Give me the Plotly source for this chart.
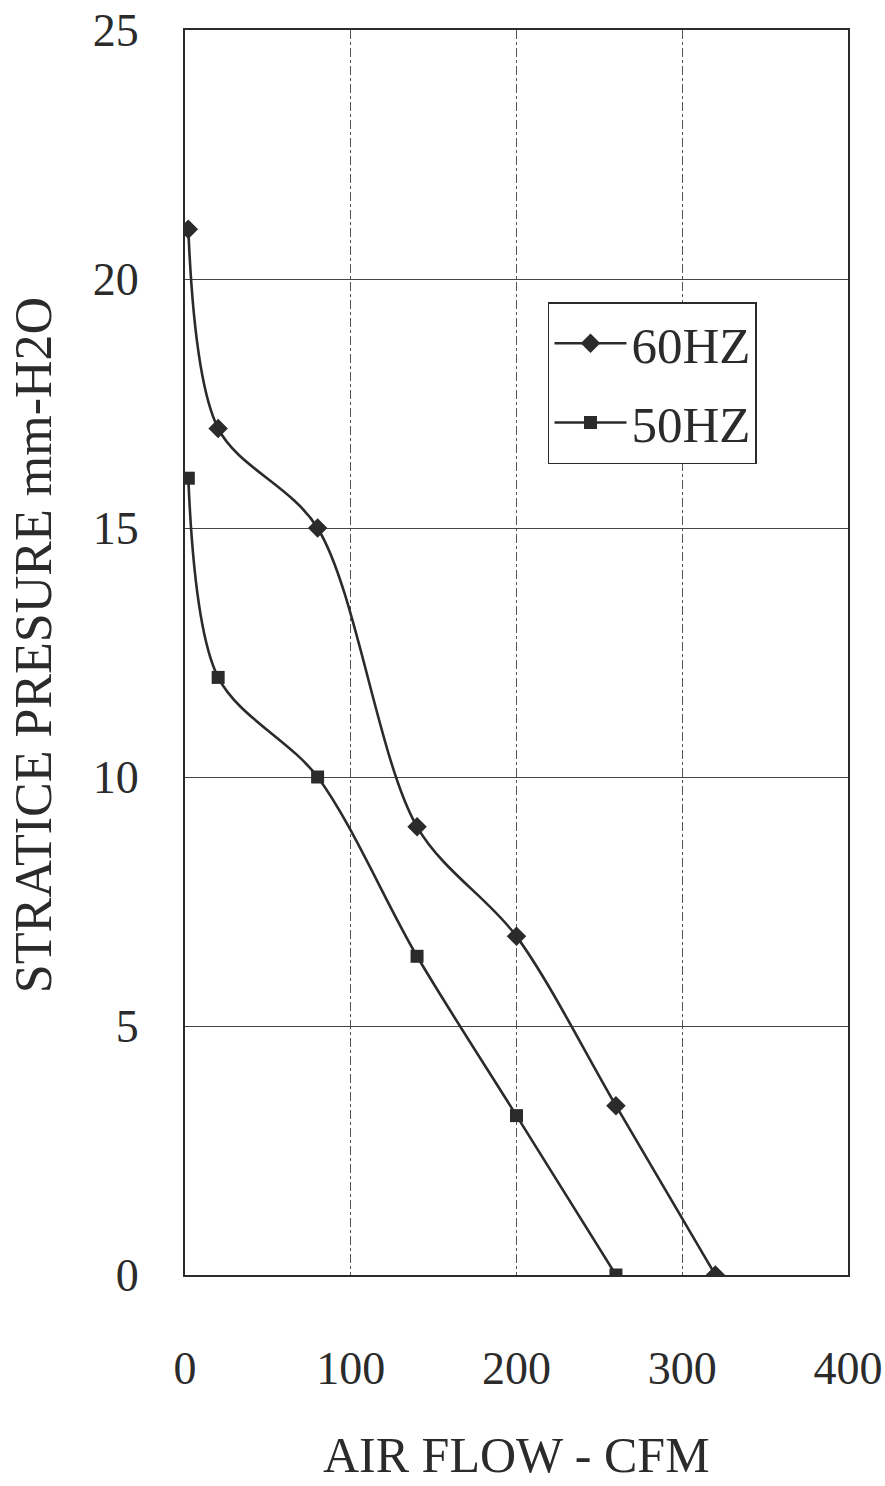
import plotly.graph_objects as go

air_flow_60 = [2, 20, 80, 140, 200, 260, 320]
pressure_60 = [21, 17, 15, 9, 6.8, 3.4, 0]
air_flow_50 = [2, 20, 80, 140, 200, 260]
pressure_50 = [16, 12, 10, 6.4, 3.2, 0]
x_ticks = [0, 100, 200, 300, 400]
y_ticks = [0, 5, 10, 15, 20, 25]

FONT = "Liberation Serif"
INK = "#2b2b2b"

fig = go.Figure()
fig.add_trace(go.Scatter(
    x=air_flow_60, y=pressure_60, name="60HZ", mode="lines+markers",
    legendgroup="a",
    line=dict(color=INK, width=2.6, shape="spline", smoothing=0.9),
    marker=dict(symbol="diamond", size=15, color=INK),
))
fig.add_trace(go.Scatter(
    x=air_flow_50, y=pressure_50, name="50HZ", mode="lines+markers",
    legendgroup="b",
    line=dict(color=INK, width=2.6, shape="spline", smoothing=0.9),
    marker=dict(symbol="square", size=13, color=INK),
))

fig.update_layout(
    width=885, height=1486,
    margin=dict(l=185, r=37, t=30, b=211),
    paper_bgcolor="white", plot_bgcolor="white",
    font=dict(family=FONT, color=INK, size=46),
    showlegend=True,
    legend=dict(
        x=0.5475, y=0.7815, xanchor="left", yanchor="top",
        bgcolor="white", bordercolor=INK, borderwidth=1.5,
        font=dict(family=FONT, size=51, color=INK),
        itemwidth=72, tracegroupgap=10,
    ),
)
fig.update_xaxes(
    range=[0, 400], tickvals=x_ticks, ticktext=[str(v) for v in x_ticks],
    showline=True, linecolor=INK, linewidth=2, mirror=True,
    showgrid=True, gridcolor="#555555", gridwidth=1, griddash="dashdot",
    zeroline=False, ticks="", ticklabelstandoff=52, automargin=False,
    ticklabeloverflow="allow",
    tickfont=dict(family=FONT, size=46, color=INK),
)
fig.update_yaxes(
    range=[0, 25], tickvals=y_ticks, ticktext=[str(v) for v in y_ticks],
    showline=True, linecolor=INK, linewidth=2, mirror=True,
    showgrid=True, gridcolor="#444444", gridwidth=1,
    zeroline=False, ticks="", ticklabelstandoff=35, automargin=False,
    ticklabeloverflow="allow",
    tickfont=dict(family=FONT, size=46, color=INK),
)
fig.add_annotation(
    text="AIR FLOW - CFM", xref="paper", yref="paper", x=0.5, y=-0.1445,
    xanchor="center", yanchor="middle", showarrow=False,
    font=dict(family=FONT, size=50, color=INK),
)
fig.add_annotation(
    text="STRATICE PRESURE mm-H2O", xref="paper", yref="paper", x=-0.229, y=0.506,
    xanchor="center", yanchor="middle", showarrow=False, textangle=-90,
    font=dict(family=FONT, size=52, color=INK),
)
fig.write_html(
    "out.html",
    config={"displayModeBar": False},
    post_script="document.body.style.margin='0';document.body.style.overflow='hidden';",
)
